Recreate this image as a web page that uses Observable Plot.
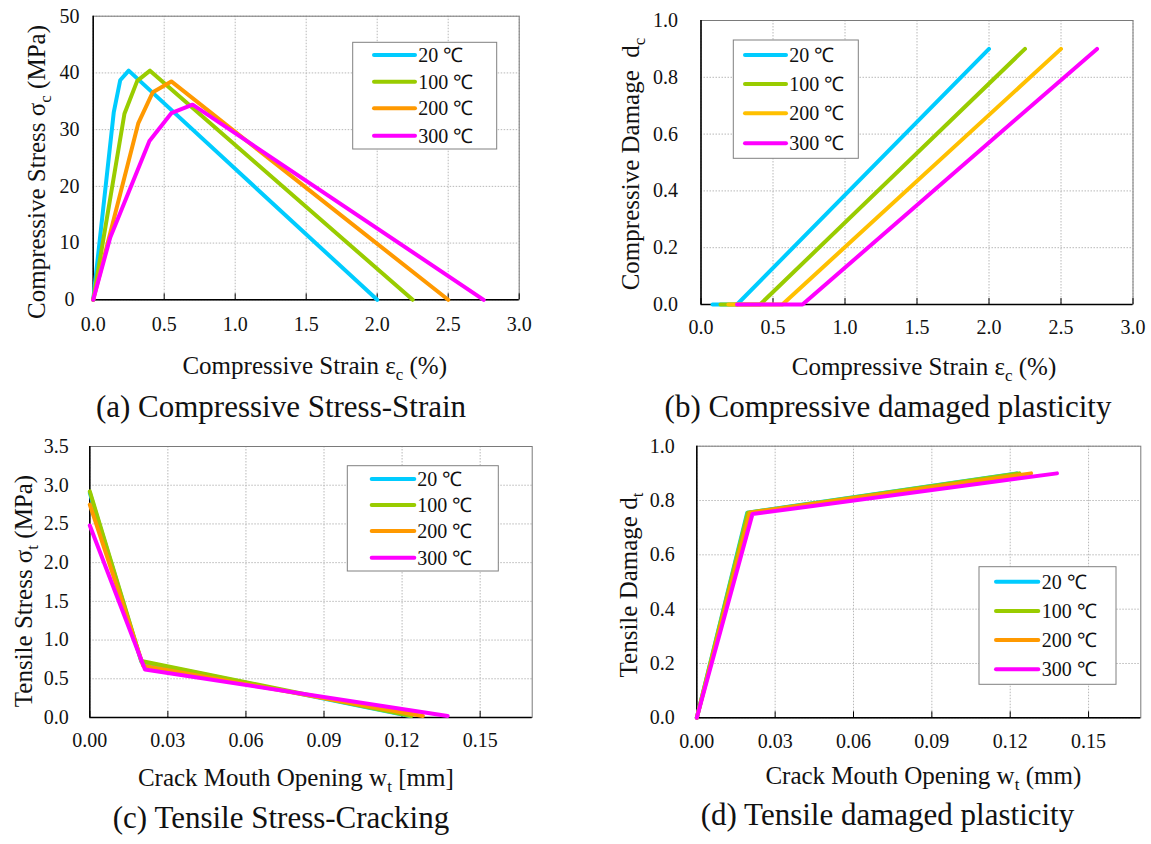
<!DOCTYPE html>
<html>
<head>
<meta charset="utf-8">
<script src="https://cdn.jsdelivr.net/npm/d3@7"></script>
<script src="https://cdn.jsdelivr.net/npm/@observablehq/plot@0.6"></script>
<style>
  html, body { margin: 0; padding: 0; background: #fff; }
  #page { position: relative; width: 1151px; height: 844px; overflow: hidden;
          font-family: "Liberation Serif", "Times New Roman", serif; }
  #page > svg { position: absolute; }
  #overlay { left: 0; top: 0; pointer-events: none; }
</style>
</head>
<body>
<div id="page"></div>
<script>
// ---- series ----
const seriesNames = ["20 ℃", "100 ℃", "200 ℃", "300 ℃"];
const stressColors = ["#00CCFF", "#99CC00", "#FF9900", "#FF00FF"];
const damageColors = ["#00CCFF", "#99CC00", "#FFC000", "#FF00FF"];

// (a) compressive stress-strain: [strain %, stress MPa]
const compStress20  = [[0, 0], [0.145, 33.1], [0.19, 38.7], [0.25, 40.4], [2.0, 0]];
const compStress100 = [[0, 0], [0.22, 32.8], [0.31, 38.6], [0.40, 40.4], [2.25, 0]];
const compStress200 = [[0, 0], [0.317, 31.1], [0.42, 36.6], [0.55, 38.5], [2.5, 0]];
const compStress300 = [[0, 0], [0.12, 11.0], [0.396, 28.0], [0.55, 32.9], [0.70, 34.4], [2.75, 0]];

// (b) compressive damage: [strain %, dc]
const compDamage20  = [[0.08, 0], [0.25, 0], [2.0, 0.9]];
const compDamage100 = [[0.135, 0], [0.41, 0], [2.25, 0.9]];
const compDamage200 = [[0.19, 0], [0.565, 0], [2.5, 0.9]];
const compDamage300 = [[0.25, 0], [0.705, 0], [2.75, 0.9]];

// (c) tensile stress vs crack opening: [w mm, stress MPa]
const tensStress20  = [[0, 2.90], [0.0198, 0.72], [0.1230, 0.02]];
const tensStress100 = [[0, 2.92], [0.0198, 0.73], [0.1236, 0.02]];
const tensStress200 = [[0, 2.75], [0.0205, 0.67], [0.1280, 0.02]];
const tensStress300 = [[0, 2.48], [0.0212, 0.62], [0.1375, 0.02]];

// (d) tensile damage: [w mm, dt]
const tensDamage20  = [[0, 0], [0.0193, 0.755], [0.1225, 0.9]];
const tensDamage100 = [[0, 0], [0.0195, 0.755], [0.1235, 0.9]];
const tensDamage200 = [[0, 0], [0.0203, 0.755], [0.1280, 0.9]];
const tensDamage300 = [[0, 0], [0.0213, 0.750], [0.1379, 0.9]];

// ---- axes ----
const strainTicks = [0, 0.5, 1.0, 1.5, 2.0, 2.5, 3.0];
const openingTicks = [0, 0.03, 0.06, 0.09, 0.12, 0.15];
const compStressTicks = [0, 10, 20, 30, 40, 50];
const damageTicks = [0, 0.2, 0.4, 0.6, 0.8, 1.0];
const tensStressTicks = [0, 0.5, 1.0, 1.5, 2.0, 2.5, 3.0, 3.5];

const FONT = '"Liberation Serif", "Times New Roman", serif';
const page = document.getElementById("page");

function toRows(list) {
  return list.flatMap((pts, i) => pts.map(([x, y]) => ({series: seriesNames[i], x, y})));
}

function panel(cfg) {
  const {rows, colors, xDomain, xTicks, xFormat, yDomain, yTicks, yFormat,
         box, frame, xPad, yPad, yAnchor} = cfg;
  const marginLeft = frame.l - box.left;
  const marginRight = box.left + box.width - frame.r;
  const marginTop = frame.t - box.top;
  const marginBottom = box.top + box.height - frame.b;
  const frameH = frame.b - frame.t;
  const chart = Plot.plot({
    width: box.width, height: box.height,
    marginLeft, marginRight, marginTop, marginBottom,
    style: {fontFamily: FONT, fontSize: "20px", color: "#111", background: "transparent", overflow: "visible"},
    x: {domain: xDomain},
    y: {domain: yDomain},
    color: {domain: seriesNames, range: colors},
    marks: [
      Plot.ruleX(xTicks, {stroke: "#b8b8b8", strokeDasharray: "1.5,1.5"}),
      Plot.ruleY(yTicks, {stroke: "#b8b8b8", strokeDasharray: "1.5,1.5"}),
      Plot.frame({stroke: "#7a7a7a"}),
      Plot.ruleX([xDomain[0]], {stroke: "#000", strokeWidth: 1.5}),
      Plot.ruleY([yDomain[0]], {stroke: "#000", strokeWidth: 1.5}),
      Plot.tickX(xTicks, {x: d => d, stroke: "#000", insetTop: frameH - 6}),
      Plot.axisX({ticks: xTicks, tickFormat: xFormat, tickSize: 0, tickPadding: xPad, label: null,
                  fontFamily: FONT}),
      Plot.axisY({ticks: yTicks, tickFormat: yFormat, tickSize: 0, tickPadding: yPad, label: null,
                  textAnchor: yAnchor || "end", fontFamily: FONT}),
      Plot.line(rows, {x: "x", y: "y", z: "series", stroke: "series", strokeWidth: 4,
                       strokeLinecap: "round", strokeLinejoin: "round"})
    ]
  });
  chart.style.left = box.left + "px";
  chart.style.top = box.top + "px";
  page.appendChild(chart);
}

const f1 = d3.format(".1f"), f2 = d3.format(".2f"), f0 = d3.format("d");

panel({
  rows: toRows([compStress20, compStress100, compStress200, compStress300]),
  colors: stressColors,
  xDomain: [0, 3], xTicks: strainTicks, xFormat: f1,
  yDomain: [0, 50], yTicks: compStressTicks, yFormat: f0,
  box: {left: 0, top: 0, width: 540, height: 345},
  frame: {l: 92.7, r: 518.7, t: 15.7, b: 299.3},
  xPad: 17, yPad: 23.7, yAnchor: "middle"
});
panel({
  rows: toRows([compDamage20, compDamage100, compDamage200, compDamage300]),
  colors: damageColors,
  xDomain: [0, 3], xTicks: strainTicks, xFormat: f1,
  yDomain: [0, 1], yTicks: damageTicks, yFormat: f1,
  box: {left: 580, top: 0, width: 571, height: 345},
  frame: {l: 700.5, r: 1132.5, t: 20, b: 304},
  xPad: 15, yPad: 23
});
panel({
  rows: toRows([tensStress20, tensStress100, tensStress200, tensStress300]),
  colors: stressColors,
  xDomain: [0, 0.17], xTicks: openingTicks, xFormat: f2,
  yDomain: [0, 3.5], yTicks: tensStressTicks, yFormat: f1,
  box: {left: 0, top: 430, width: 560, height: 330},
  frame: {l: 89.3, r: 531.7, t: 446, b: 717},
  xPad: 15.5, yPad: 21
});
panel({
  rows: toRows([tensDamage20, tensDamage100, tensDamage200, tensDamage300]),
  colors: stressColors,
  xDomain: [0, 0.17], xTicks: openingTicks, xFormat: f2,
  yDomain: [0, 1], yTicks: damageTicks, yFormat: f1,
  box: {left: 580, top: 430, width: 571, height: 330},
  frame: {l: 696.3, r: 1140.3, t: 445.7, b: 717.3},
  xPad: 15.8, yPad: 22
});

// ---- titles, captions and legends ----
const overlay = d3.select(page).append("svg")
  .attr("id", "overlay").attr("width", 1151).attr("height", 844)
  .style("font-family", FONT).style("white-space", "pre");

// parts: [text, isSubscript]
function label(parts, {x, y, size, rotate = false}) {
  const t = overlay.append("text")
    .attr("text-anchor", "middle").attr("font-size", size).attr("fill", "#111")
    .attr("transform", `translate(${x},${y})` + (rotate ? " rotate(-90)" : ""));
  const shift = Math.round(size * 0.24);
  let down = false;
  for (const [s, sub] of parts) {
    const span = t.append("tspan").text(s);
    if (sub) { span.attr("font-size", Math.round(size * 0.68)).attr("dy", shift); down = true; }
    else if (down) { span.attr("dy", -shift); down = false; }
  }
}

// axis titles
label([["Compressive Stress σ"], ["c", true], [" (MPa)"]], {x: 45, y: 172, size: 25, rotate: true});
label([["Compressive Damage\u00a0 d"], ["c", true]], {x: 639, y: 164, size: 25, rotate: true});
label([["Tensile Stress σ"], ["t", true], [" (MPa)"]], {x: 32, y: 591, size: 25, rotate: true});
label([["Tensile Damage d"], ["t", true]], {x: 637, y: 585, size: 25, rotate: true});

label([["Compressive Strain ε"], ["c", true], [" (%)"]], {x: 314.7, y: 374, size: 25});
label([["Compressive Strain ε"], ["c", true], [" (%)"]], {x: 924, y: 375, size: 25});
label([["Crack Mouth Opening w"], ["t", true], [" [mm]"]], {x: 295.8, y: 786, size: 25});
label([["Crack Mouth Opening w"], ["t", true], [" (mm)"]], {x: 923.3, y: 784, size: 25});

// captions
label([["(a) Compressive Stress-Strain"]], {x: 281, y: 417.3, size: 31});
label([["(b) Compressive damaged plasticity"]], {x: 888, y: 416.7, size: 31});
label([["(c) Tensile Stress-Cracking"]], {x: 281, y: 828.3, size: 31});
label([["(d) Tensile damaged plasticity"]], {x: 887.5, y: 825, size: 31});

// legends
function legend(colors, {x0, x1, y0, y1, sw0, sw1, tx, rows}) {
  const g = overlay.append("g");
  g.append("rect").attr("x", x0).attr("y", y0).attr("width", x1 - x0).attr("height", y1 - y0)
    .attr("fill", "#fff").attr("stroke", "#808080").attr("stroke-width", 1);
  seriesNames.forEach((name, i) => {
    const y = rows[i];
    g.append("line").attr("x1", sw0).attr("x2", sw1).attr("y1", y).attr("y2", y)
      .attr("stroke", colors[i]).attr("stroke-width", 4).attr("stroke-linecap", "round");
    g.append("text").attr("x", tx).attr("y", y + 7).attr("font-size", 20).attr("fill", "#111").text(name);
  });
}
legend(stressColors, {x0: 352.7, x1: 496.7, y0: 42.3, y1: 149, sw0: 374, sw1: 415, tx: 418.3,
                      rows: [55, 81.7, 108.3, 135.7]});
legend(damageColors, {x0: 733.3, x1: 858.3, y0: 40, y1: 158.3, sw0: 745, sw1: 786, tx: 789.3,
                      rows: [55, 84, 113.3, 143.3]});
legend(stressColors, {x0: 347.3, x1: 498.3, y0: 465.7, y1: 571, sw0: 371.7, sw1: 414.3, tx: 417.3,
                      rows: [479, 505, 531, 557.7]});
legend(stressColors, {x0: 979, x1: 1116, y0: 566.7, y1: 684.3, sw0: 996, sw1: 1038.3, tx: 1041.7,
                      rows: [581.7, 611, 640, 669.3]});
</script>
</body>
</html>
